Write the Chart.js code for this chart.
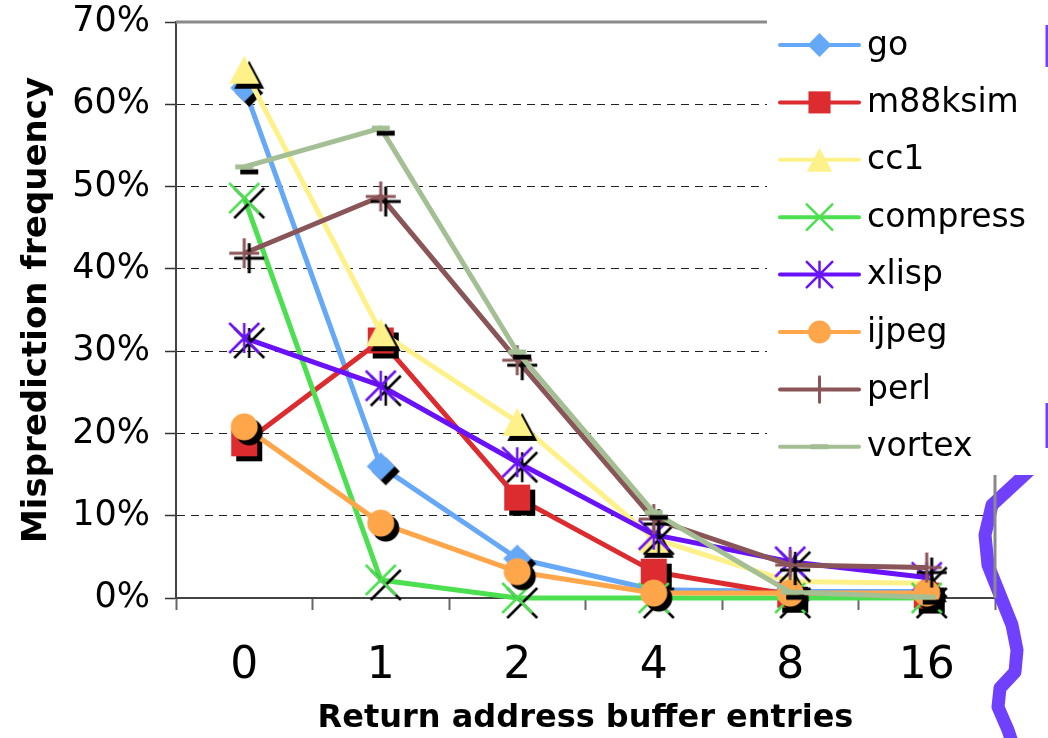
<!DOCTYPE html>
<html>
<head>
<meta charset="utf-8">
<script src="https://cdn.jsdelivr.net/npm/chart.js@4.4.1/dist/chart.umd.min.js"></script>
<style>
  html, body { margin: 0; padding: 0; background: #fff; }
  #chart { display: block; }
</style>
</head>
<body>
<canvas id="chart" width="1048" height="738"></canvas>
<script>
const labels = ['0', '1', '2', '4', '8', '16'];
const yTickLabels = ['0%', '10%', '20%', '30%', '40%', '50%', '60%', '70%'];

const seriesNames = ['go', 'm88ksim', 'cc1', 'compress', 'xlisp', 'ijpeg', 'perl', 'vortex'];
const go       = [62.0, 16.0, 4.8, 1.0, 0.8, 0.8];
const m88ksim  = [18.8, 31.3, 12.2, 3.2, 0.4, 0.3];
const cc1      = [64.2, 32.3, 21.4, 7.2, 2.0, 1.8];
const compress = [48.6, 2.2, 0.0, 0.0, 0.0, 0.0];
const xlisp    = [31.6, 25.8, 16.5, 7.7, 4.4, 2.5];
const ijpeg    = [20.8, 9.1, 3.2, 0.6, 0.6, 0.6];
const perl     = [41.9, 48.8, 28.9, 9.6, 4.0, 3.7];
const vortex   = [52.4, 57.1, 29.9, 10.4, 0.7, 0.1];
const seriesData = [go, m88ksim, cc1, compress, xlisp, ijpeg, perl, vortex];

const seriesColors = ['#66A8F8', '#DC2C30', '#FFF18A', '#4CE050', '#6A12F7', '#FFA64A', '#8A5558', '#A3BF93'];
const seriesMarkers = ['diamond', 'square', 'triangle', 'x', 'asterisk', 'circle', 'plus', 'dash'];

const FONT = '"DejaVu Sans", Verdana, sans-serif';

function drawMarker(ctx, kind, x, y, s, color) {
    ctx.save();
    ctx.fillStyle = color;
    ctx.strokeStyle = color;
    ctx.beginPath();
    if (kind === 'diamond') {
        const h = 14 * s;
        ctx.moveTo(x, y - h); ctx.lineTo(x + h, y); ctx.lineTo(x, y + h); ctx.lineTo(x - h, y);
        ctx.closePath(); ctx.fill();
    } else if (kind === 'square') {
        const h = 13 * s;
        ctx.fillRect(x - h, y - h, 2 * h, 2 * h);
    } else if (kind === 'triangle') {
        const w = 15 * s, h = 14 * s;
        ctx.moveTo(x, y - h); ctx.lineTo(x + w, y + h); ctx.lineTo(x - w, y + h);
        ctx.closePath(); ctx.fill();
    } else if (kind === 'circle') {
        ctx.arc(x, y, 13.5 * s, 0, Math.PI * 2); ctx.fill();
    } else if (kind === 'x') {
        const h = 15 * s;
        ctx.lineWidth = 2.5;
        ctx.moveTo(x - h, y - h); ctx.lineTo(x + h, y + h);
        ctx.moveTo(x + h, y - h); ctx.lineTo(x - h, y + h);
        ctx.stroke();
    } else if (kind === 'asterisk') {
        const h = 15 * s;
        ctx.lineWidth = 2.5;
        ctx.moveTo(x - h, y - h); ctx.lineTo(x + h, y + h);
        ctx.moveTo(x + h, y - h); ctx.lineTo(x - h, y + h);
        ctx.moveTo(x, y - h); ctx.lineTo(x, y + h);
        ctx.stroke();
    } else if (kind === 'plus') {
        const h = 15 * s;
        ctx.lineWidth = 3;
        ctx.moveTo(x - h, y); ctx.lineTo(x + h, y);
        ctx.moveTo(x, y - h); ctx.lineTo(x, y + h);
        ctx.stroke();
    } else if (kind === 'dash') {
        const h = 9 * s;
        ctx.lineWidth = 5;
        ctx.moveTo(x - h, y); ctx.lineTo(x + h, y);
        ctx.stroke();
    }
    ctx.restore();
}

// marker with its black drop shadow, used as the point image
function makeMarker(kind, color) {
    const c = document.createElement('canvas');
    c.width = 52; c.height = 52;
    const ctx = c.getContext('2d');
    drawMarker(ctx, kind, 31, 31, 1, '#000');
    drawMarker(ctx, kind, 26, 26, 1, color);
    return c;
}

const frame = {
    id: 'frame',
    beforeDatasetsDraw(chart) {
        const { ctx, chartArea } = chart;
        ctx.save();
        // purple stroke from the slide, right edge
        ctx.strokeStyle = '#7040FF';
        ctx.lineWidth = 13;
        ctx.lineJoin = 'round';
        ctx.beginPath();
        const pts = [[1032, 468], [992, 505], [985, 535], [988, 565], [1000, 595], [1012, 625],
                     [1017, 650], [1015, 672], [1000, 688], [998, 707], [1008, 730], [1013, 745]];
        pts.forEach((p, i) => i ? ctx.lineTo(p[0], p[1]) : ctx.moveTo(p[0], p[1]));
        ctx.stroke();

        ctx.strokeStyle = '#8a8a8a';
        ctx.lineWidth = 3;
        ctx.beginPath();
        ctx.moveTo(chartArea.left, chartArea.top);
        ctx.lineTo(chartArea.right, chartArea.top);
        ctx.moveTo(chartArea.right, chartArea.top);
        ctx.lineTo(chartArea.right, chartArea.bottom);
        ctx.stroke();
        ctx.restore();
    }
};

const legendBox = {
    id: 'legendBox',
    afterDraw(chart) {
        const ctx = chart.ctx;
        ctx.save();
        ctx.fillStyle = '#fff';
        ctx.fillRect(767, 0, 1048 - 767, 475);

        ctx.font = '33px ' + FONT;
        ctx.textBaseline = 'middle';
        chart.data.datasets.forEach((ds, i) => {
            const y = 45 + i * 57.4;
            ctx.strokeStyle = ds.borderColor;
            ctx.lineWidth = 4;
            ctx.lineCap = 'round';
            ctx.beginPath();
            ctx.moveTo(780, y);
            ctx.lineTo(859, y);
            ctx.stroke();
            drawMarker(ctx, seriesMarkers[i], 819.5, y, 0.85, ds.borderColor);
            ctx.fillStyle = '#000';
            ctx.fillText(ds.label, 867, y + 1);
        });

        // bits of the slide's purple bracket at the far edge
        ctx.strokeStyle = '#7040FF';
        ctx.lineWidth = 3;
        ctx.lineCap = 'butt';
        ctx.beginPath();
        ctx.moveTo(1047, 25); ctx.lineTo(1047, 67);
        ctx.moveTo(1047, 403); ctx.lineTo(1047, 448);
        ctx.stroke();
        ctx.restore();
    }
};

new Chart(document.getElementById('chart'), {
    type: 'line',
    data: {
        labels: labels,
        datasets: seriesNames.map((name, i) => ({
            label: name,
            data: seriesData[i],
            borderColor: seriesColors[i],
            backgroundColor: seriesColors[i],
            borderWidth: 5,
            borderJoinStyle: 'round',
            pointStyle: makeMarker(seriesMarkers[i], seriesColors[i]),
            pointRadius: 10,
            pointHoverRadius: 10,
            tension: 0,
            clip: false,
            order: seriesNames.length - i
        }))
    },
    options: {
        responsive: false,
        devicePixelRatio: 1,
        animation: false,
        events: [],
        layout: { padding: { top: 22, right: 53, left: 0, bottom: 0 } },
        plugins: {
            legend: { display: false },
            tooltip: { enabled: false }
        },
        scales: {
            x: {
                offset: true,
                afterFit: (scale) => {
                    scale.height = 140;
                    scale.paddingLeft = 0;
                    scale.paddingRight = 0;
                },
                grid: {
                    offset: true,
                    drawOnChartArea: false,
                    tickLength: 12,
                    tickColor: '#666',
                    tickWidth: 2
                },
                border: { color: '#444', width: 2 },
                ticks: {
                    color: '#000',
                    padding: 30,
                    font: { family: FONT, size: 44 }
                },
                title: {
                    display: true,
                    text: 'Return address buffer entries',
                    color: '#000',
                    font: { family: FONT, size: 32, weight: 'bold' },
                    padding: { top: 0, bottom: 0 }
                }
            },
            y: {
                min: 0,
                max: 70,
                afterFit: (scale) => {
                    scale.width = 176;
                    scale.paddingTop = 0;
                    scale.paddingBottom = 0;
                },
                grid: {
                    color: (c) => (c.index === 0 || c.index === 7) ? 'rgba(0,0,0,0)' : '#222',
                    lineWidth: 1,
                    tickLength: 11,
                    tickColor: '#333',
                    tickWidth: 1.5
                },
                border: { color: '#444', width: 2, dash: [8, 6] },
                ticks: {
                    stepSize: 10,
                    color: '#000',
                    padding: 15,
                    font: { family: FONT, size: 35 },
                    callback: (v, i) => yTickLabels[i]
                },
                title: {
                    display: true,
                    text: 'Misprediction frequency',
                    color: '#000',
                    font: { family: FONT, size: 34, weight: 'bold' },
                    padding: { top: 17, bottom: 0 }
                }
            }
        }
    },
    plugins: [frame, legendBox]
});
</script>
</body>
</html>
